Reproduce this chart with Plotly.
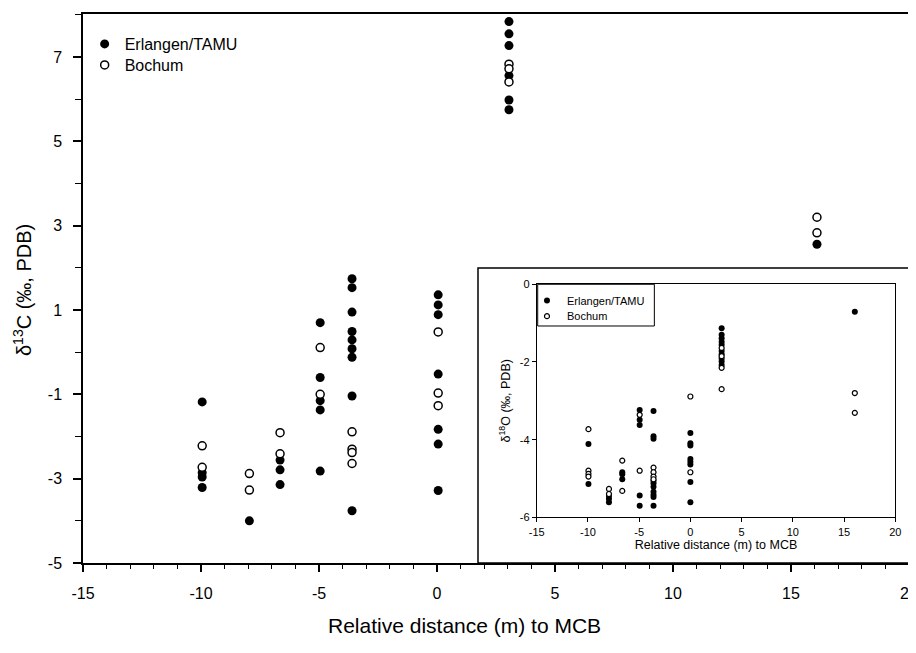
import plotly.graph_objects as go

# ---------------- Data: main chart (delta 13C) ----------------
erl_c_x = [-9.95, -9.95, -9.95, -9.95,
           -7.95,
           -6.65, -6.65, -6.65,
           -4.95, -4.95, -4.95, -4.95, -4.95,
           -3.6, -3.6, -3.6, -3.6, -3.6, -3.6, -3.6, -3.6, -3.6,
           0.05, 0.05, 0.05, 0.05, 0.05, 0.05, 0.05,
           3.05, 3.05, 3.05, 3.05, 3.05, 3.05,
           16.1]
erl_c_y = [-1.18, -2.86, -2.96, -3.21,
           -4.0,
           -2.56, -2.79, -3.14,
           0.70, -0.60, -1.15, -1.37, -2.82,
           1.74, 1.53, 0.95, 0.49, 0.29, 0.08, -0.12, -1.04, -3.76,
           1.36, 1.12, 0.89, -0.52, -1.83, -2.18, -3.28,
           7.84, 7.55, 7.27, 6.56, 5.98, 5.75,
           2.56]
boc_c_x = [-9.95, -9.95,
           -7.95, -7.95,
           -6.65, -6.65,
           -4.95, -4.95,
           -3.6, -3.6, -3.6, -3.6,
           0.05, 0.05, 0.05,
           3.05, 3.05, 3.05,
           16.1, 16.1]
boc_c_y = [-2.22, -2.73,
           -2.88, -3.27,
           -1.91, -2.41,
           0.11, -1.00,
           -1.89, -2.30, -2.38, -2.64,
           0.48, -0.97, -1.27,
           6.83, 6.72, 6.41,
           3.20, 2.83]

# ---------------- Data: inset (delta 18O) ----------------
erl_o_x = [-9.95, -9.95,
           -7.95, -7.95, -7.95,
           -6.65, -6.65, -6.65,
           -4.95, -4.95, -4.95, -4.95, -4.95,
           -3.6, -3.6, -3.6, -3.6, -3.6, -3.6, -3.6, -3.6, -3.6, -3.6,
           0.0, 0.0, 0.0, 0.0, 0.0, 0.0, 0.0, 0.0,
           3.05, 3.05, 3.05, 3.05, 3.05, 3.05, 3.05, 3.05, 3.05, 3.05,
           16.05]
erl_o_y = [-4.11, -5.14,
           -5.45, -5.52, -5.61,
           -4.84, -4.89, -5.02,
           -3.24, -3.49, -3.62, -5.44, -5.70,
           -3.26, -3.91, -3.98, -5.06, -5.12, -5.21, -5.34, -5.42, -5.48, -5.70,
           -3.83, -4.09, -4.15, -4.50, -4.57, -4.64, -5.09, -5.61,
           -1.13, -1.30, -1.39, -1.48, -1.56, -1.72, -1.80, -1.91, -1.99, -2.08,
           -0.71]
boc_o_x = [-9.95, -9.95, -9.95, -9.95,
           -7.95, -7.95,
           -6.65, -6.65,
           -4.95, -4.95,
           -3.6, -3.6, -3.6, -3.6,
           0.0, 0.0,
           3.05, 3.05, 3.05, 3.05,
           16.05, 16.05]
boc_o_y = [-3.73, -4.80, -4.88, -4.95,
           -5.27, -5.40,
           -4.54, -5.32,
           -3.36, -4.80,
           -4.72, -4.84, -4.95, -5.02,
           -2.89, -4.84,
           -1.64, -1.85, -2.15, -2.70,
           -2.80, -3.31]

# ---------------- Tick labels ----------------
main_x_ticks = [-15, -10, -5, 0, 5, 10, 15, 20]
main_x_labels = ["-15", "-10", "-5", "0", "5", "10", "15", "20"]
main_y_ticks = [-5, -3, -1, 1, 3, 5, 7]
main_y_labels = ["-5", "-3", "-1", "1", "3", "5", "7"]
inset_x_ticks = [-15, -10, -5, 0, 5, 10, 15, 20]
inset_x_labels = ["-15", "-10", "-5", "0", "5", "10", "15", "20"]
inset_y_ticks = [-6, -4, -2, 0]
inset_y_labels = ["-6", "-4", "-2", "0"]

FONT = "Liberation Sans, Arial, sans-serif"

fig = go.Figure()

# main traces
fig.add_trace(go.Scatter(x=erl_c_x, y=erl_c_y, mode="markers", name="Erlangen/TAMU",
                         marker=dict(symbol="circle", size=9, color="black",
                                     line=dict(color="black", width=0)),
                         xaxis="x", yaxis="y", legend="legend"))
fig.add_trace(go.Scatter(x=boc_c_x, y=boc_c_y, mode="markers", name="Bochum",
                         marker=dict(symbol="circle", size=8, color="white",
                                     line=dict(color="black", width=1.5)),
                         xaxis="x", yaxis="y", legend="legend3"))

# inset traces
fig.add_trace(go.Scatter(x=erl_o_x, y=erl_o_y, mode="markers", name="Erlangen/TAMU",
                         marker=dict(symbol="circle", size=6, color="black",
                                     line=dict(color="black", width=0)),
                         xaxis="x2", yaxis="y2", legend="legend2"))
fig.add_trace(go.Scatter(x=boc_o_x, y=boc_o_y, mode="markers", name="Bochum",
                         marker=dict(symbol="circle", size=5, color="white",
                                     line=dict(color="black", width=1.2)),
                         xaxis="x2", yaxis="y2", legend="legend4"))

main_axis = dict(showline=True, linecolor="black", linewidth=1.5, mirror=True,
                 ticks="outside", tickcolor="black", tickwidth=1.5,
                 showgrid=False, zeroline=False, automargin=False,
                 ticklabeloverflow="allow",
                 tickfont=dict(family=FONT, size=16, color="black"))

inset_axis = dict(showline=True, linecolor="black", linewidth=1, mirror=True,
                  ticks="outside", tickcolor="black", tickwidth=1, ticklen=4,
                  showgrid=False, zeroline=False, automargin=False,
                  tickfont=dict(family=FONT, size=11, color="black"))

def leg(x, y, size):
    return dict(x=x, y=y, xanchor="left", yanchor="top",
                bgcolor="rgba(0,0,0,0)", borderwidth=0,
                font=dict(family=FONT, size=size, color="black"),
                itemwidth=30, tracegroupgap=0)

# the page body has an 8px default margin, so the figure is 8px smaller
fig.update_layout(
    width=908, height=645,
    margin=dict(l=75, r=7, t=6, b=90, autoexpand=False),
    paper_bgcolor="white", plot_bgcolor="white",
    font=dict(family=FONT, color="black"),
    xaxis=dict(**main_axis, domain=[0, 1], range=[-15, 20], tickmode="array",
               tickvals=main_x_ticks, ticktext=main_x_labels,
               ticklen=7, ticklabelstandoff=8,
               minor=dict(tickmode="linear", tick0=-15, dtick=1, ticklen=4,
                          tickwidth=1.2, tickcolor="black", ticks="outside")),
    yaxis=dict(**main_axis, domain=[0, 1], range=[-5, 8.02], tickmode="array",
               tickvals=main_y_ticks, ticktext=main_y_labels,
               ticklen=8, ticklabelstandoff=8,
               minor=dict(tickmode="linear", tick0=-5, dtick=1, ticklen=6,
                          tickwidth=1.2, tickcolor="black", ticks="outside")),
    xaxis2=dict(**inset_axis, domain=[0.5493, 0.9834], range=[-15, 20],
                tickmode="array", tickvals=inset_x_ticks, ticktext=inset_x_labels,
                anchor="y2",
                title=dict(text="Relative distance (m) to MCB",
                           font=dict(family=FONT, size=12.5, color="black"),
                           standoff=3)),
    yaxis2=dict(**inset_axis, domain=[0.0832, 0.5077], range=[-6, 0],
                tickmode="array", tickvals=inset_y_ticks, ticktext=inset_y_labels,
                anchor="x2",
                title=dict(text="δ<sup>18</sup>O (‰, PDB)",
                           font=dict(family=FONT, size=12.5, color="black"),
                           standoff=6)),
    legend=leg(0.002, 0.9763, 16),
    legend3=leg(0.002, 0.9380, 16),
    legend2=leg(0.5375, 0.5046, 11),
    legend4=leg(0.5375, 0.4760, 11),
    showlegend=True,
    shapes=[dict(type="rect", xref="paper", yref="paper",
                 x0=0.4782, x1=1.0, y0=0.0, y1=0.5373,
                 fillcolor="white", line=dict(color="black", width=1.5),
                 layer="below"),
            dict(type="rect", xref="paper", yref="paper",
                 x0=0.5505, x1=0.6917, y0=0.4317, y1=0.5077,
                 fillcolor="white", line=dict(color="black", width=1),
                 layer="above")],
    annotations=[
        dict(text="Relative distance (m) to MCB", xref="paper", yref="paper",
             x=0.462, y=-0.113, xanchor="center", yanchor="middle",
             showarrow=False, font=dict(family=FONT, size=21, color="black")),
        dict(text="δ<sup>13</sup>C (‰, PDB)", xref="paper", yref="paper",
             x=-0.074, y=0.497, xanchor="center", yanchor="middle", textangle=-90,
             showarrow=False, font=dict(family=FONT, size=20, color="black")),
    ],
)

fig.write_html("out.html")
